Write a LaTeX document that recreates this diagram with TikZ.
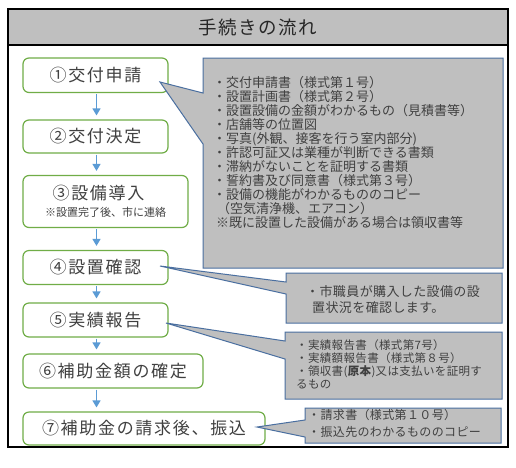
\documentclass[tikz,border=0pt]{standalone}
\usepackage{fontspec}
\setmainfont{Noto Sans CJK JP}
\newfontfamily\boxfont[LetterSpace=10]{Noto Sans CJK JP}
\newfontfamily\titlefont[LetterSpace=8]{Noto Sans CJK JP}
\newfontfamily\cfont[LetterSpace=3]{Noto Sans CJK JP}
\usetikzlibrary{arrows.meta}
\definecolor{boxgreen}{HTML}{70AD47}
\definecolor{arrblue}{HTML}{5B9BD5}
\definecolor{callgray}{HTML}{BFBFBF}
\definecolor{callline}{HTML}{4A6FA0}
\definecolor{txt}{HTML}{404040}
\definecolor{titlegray}{HTML}{BFBFBF}
\lineskiplimit=-8pt
\begin{document}
\begin{tikzpicture}[x=1pt,y=-1pt,
  stepbox/.style={draw=boxgreen,line width=1.2pt,rounded corners=6pt,fill=white,text=txt,
    font=\boxfont\fontsize{17}{20}\selectfont,inner sep=0pt},
  arr/.style={draw=arrblue,line width=1.4pt,-{Triangle[width=8pt,length=7pt]},shorten <=1pt,shorten >=4pt},
  callout/.style={draw=callline,fill=callgray,line width=1pt,line join=miter},
  ctext/.style={anchor=north west,align=left,inner sep=0pt,text=txt}]
\useasboundingbox (0,0) rectangle (516,467);
\fill[white] (0,0) rectangle (516,467);
% frame and title
\draw[line width=2pt] (8,9) rectangle (508,447);
\draw[line width=2pt,fill=titlegray] (8,9) rectangle (508,45);
\node[text=black!85,font=\titlefont\fontsize{18.5}{20}\selectfont] (title) at (258,27) {手続きの流れ};
% step boxes
\node[stepbox,minimum width=145pt,minimum height=34.5pt] (b1) at (95.5,75.25) {①交付申請};
\node[stepbox,minimum width=145pt,minimum height=33pt] (b2) at (95.5,136.5) {②交付決定};
\node[stepbox,minimum width=165pt,minimum height=52pt] (b3) at (105.5,201.5) {};
\node[text=txt,font=\boxfont\fontsize{17}{20}\selectfont,inner sep=0pt] (b3a) at (98.5,193) {③設備導入};
\node[text=txt,font=\fontsize{11}{12}\selectfont,inner sep=0pt] (b3b) at (105.5,212) {※設置完了後、市に連絡};
\node[stepbox,minimum width=145pt,minimum height=34pt] (b4) at (95.5,267.5) {④設置確認};
\node[stepbox,minimum width=145pt,minimum height=34pt] (b5) at (95.5,320) {⑤実績報告};
\node[stepbox,minimum width=180pt,minimum height=34pt] (b6) at (113,371) {⑥補助金額の確定};
\node[stepbox,minimum width=242pt,minimum height=33pt] (b7) at (144,428.5) {⑦補助金の請求後、振込};
% arrows
\coordinate (ax) at (96.5,0);
\draw[arr] (b1.south -| ax) -- (b2.north -| ax);
\draw[arr] (b2.south -| ax) -- (b3.north -| ax);
\draw[arr] (b3.south -| ax) -- (b4.north -| ax);
\draw[arr] (b4.south -| ax) -- (b5.north -| ax);
\draw[arr] (b5.south -| ax) -- (b6.north -| ax);
\draw[arr] (b6.south -| ax) -- (b7.north -| ax);
% callouts
\draw[callout] (203,58) -- (503,58) -- (503,268) -- (203,268) -- (203,144) -- (160,82) -- (203,93) -- cycle;
\draw[callout] (286,273) -- (502,273) -- (502,323) -- (286,323) -- (286,294) -- (160,266) -- (286,282) -- cycle;
\draw[callout] (285,332) -- (502,332) -- (502,399) -- (285,399) -- (285,359) -- (166,323) -- (285,341) -- cycle;
\draw[callout] (305,408) -- (501,408) -- (501,443) -- (305,443) -- (305,437) -- (257,427) -- (305,420) -- cycle;
% callout texts
\node[ctext,font=\fontsize{13}{14}\selectfont] (c1) at (213,76.5) {・交付申請書（様式第１号）\\
・設置計画書（様式第２号）\\
・設置設備の金額がわかるもの（見積書等）\\
・店舗等の位置図\\
・写真(外観、接客を行う室内部分)\\
・許認可証又は業種が判断できる書類\\
・滞納がないことを証明する書類\\
・誓約書及び同意書（様式第３号）\\
・設備の機能がわかるもののコピー\\
\hspace*{4pt}（空気清浄機、エアコン）\\
\hspace*{3pt}※既に設置した設備がある場合は領収書等};
\node[ctext,font=\cfont\fontsize{13}{16}\selectfont] (c2) at (306,285.5) {・市職員が購入した設備の設\\
\hspace*{6pt}置状況を確認します。};
\node[ctext,font=\cfont\fontsize{11.5}{13.3}\selectfont] (c3) at (296,339) {・実績報告書（様式第7号）\\
・実績額報告書（様式第８号）\\
・領収書(\textbf{原本})又は支払いを証明す\\
るもの};
\node[ctext,font=\cfont\fontsize{12}{17}\selectfont] (c4) at (308,409) {・請求書（様式第１０号）\\
・振込先のわかるもののコピー};
\end{tikzpicture}
\end{document}
